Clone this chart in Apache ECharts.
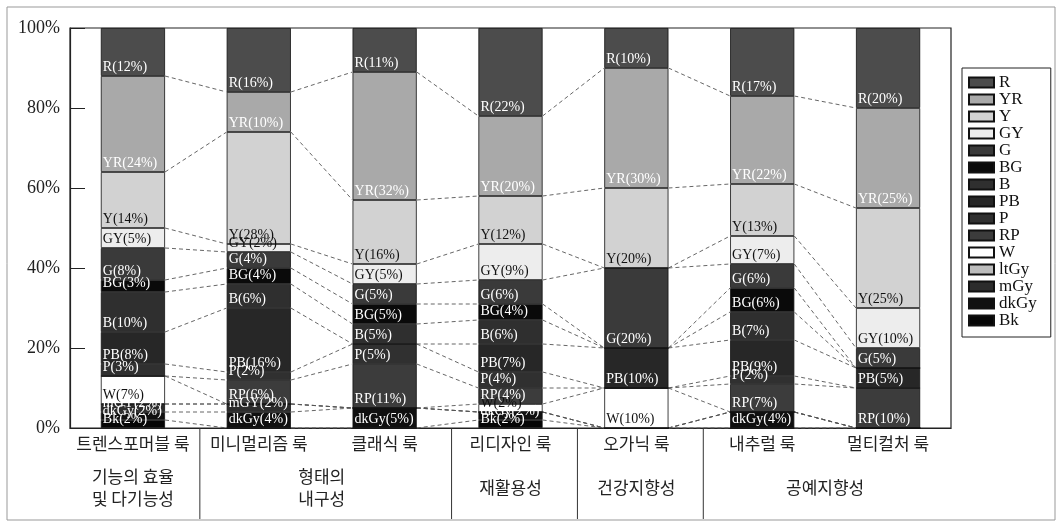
<!DOCTYPE html>
<html><head><meta charset="utf-8">
<script src="https://cdn.jsdelivr.net/npm/echarts@6/dist/echarts.min.js"></script>
<style>html,body{margin:0;padding:0;background:#fff}#c{width:1061px;height:526px}</style>
</head><body><div id="c"></div>
<script>
// ---- data ----
const categories = ['트렌스포머블 룩', '미니멀리즘 룩', '클래식 룩', '리디자인 룩', '오가닉 룩', '내추럴 룩', '멀티컬처 룩'];
const groups = ['기능의 효율\n및 다기능성', '형태의\n내구성', '재활용성', '건강지향성', '공예지향성'];
const groupSizes = [1, 2, 1, 1, 2];
// stacking order bottom -> top
const colorNames = ['Bk', 'dkGy', 'mGy', 'ltGy', 'W', 'RP', 'P', 'PB', 'B', 'BG', 'G', 'GY', 'Y', 'YR', 'R'];
const labelNames = ['Bk', 'dkGy', 'mGY', 'ltGy', 'W', 'RP', 'P', 'PB', 'B', 'BG', 'G', 'GY', 'Y', 'YR', 'R'];
const legendOrder = ['R', 'YR', 'Y', 'GY', 'G', 'BG', 'B', 'PB', 'P', 'RP', 'W', 'ltGy', 'mGy', 'dkGy', 'Bk'];
const Bk   = [2, 0, 0, 2, 0, 0, 0];
const dkGy = [2, 4, 5, 2, 0, 4, 0];
const mGy  = [2, 2, 0, 0, 0, 0, 0];
const ltGy = [0, 0, 0, 0, 0, 0, 0];
const W    = [7, 0, 0, 2, 10, 0, 0];
const RP   = [0, 6, 11, 4, 0, 7, 10];
const P    = [3, 2, 5, 4, 0, 2, 0];
const PB   = [8, 16, 0, 7, 10, 9, 5];
const B    = [10, 6, 5, 6, 0, 7, 0];
const BG   = [3, 4, 5, 4, 0, 6, 0];
const G    = [8, 4, 5, 6, 20, 6, 5];
const GY   = [5, 2, 5, 9, 0, 7, 10];
const Y    = [14, 28, 16, 12, 20, 13, 25];
const YR   = [24, 10, 32, 20, 30, 22, 25];
const R    = [12, 16, 11, 22, 10, 17, 20];
const yTicks = [0, 20, 40, 60, 80, 100];

// ---- styles ----
const values = [Bk, dkGy, mGy, ltGy, W, RP, P, PB, B, BG, G, GY, Y, YR, R];
const fills = {
  Bk: '#060606', dkGy: '#101010', mGy: '#2c2c2c', ltGy: '#bdbdbd', W: '#ffffff',
  RP: '#3c3c3c', P: '#303030', PB: '#272727', B: '#2f2f2f', BG: '#0a0a0a',
  G: '#3a3a3a', GY: '#ededed', Y: '#d2d2d2', YR: '#a9a9a9', R: '#4c4c4c'
};
const darkText = { W: 1, GY: 1, Y: 1, ltGy: 1 };
const BAR_RATIO = 0.51;
const serif = '"Liberation Serif", "DejaVu Serif", serif';
const kr = '"Noto Sans CJK KR", sans-serif';

function cumStart(c, i) { let s = 0; for (let k = 0; k < c; k++) s += values[k][i]; return s; }

const series = colorNames.map((n, c) => ({
  name: n, type: 'bar', stack: 'all', barWidth: (BAR_RATIO * 100) + '%',
  data: values[c],
  itemStyle: { color: fills[n], borderColor: '#111', borderWidth: 0.8 },
  label: {
    show: true, position: 'insideBottomLeft', distance: 2,
    fontFamily: serif, fontSize: 14, color: darkText[n] ? '#111' : '#fff',
    formatter: p => p.value > 0 ? labelNames[c] + '(' + p.value + '%)' : ''
  },
  labelLayout: { hideOverlap: false }
}));

// connectors
const linkData = [];
for (let i = 0; i < categories.length - 1; i++)
  for (let c = 1; c < colorNames.length; c++) linkData.push([i, c]);
series.push({
  type: 'custom', name: 'links', silent: true, data: linkData, z: 1,
  renderItem(params, api) {
    const i = api.value(0), c = api.value(1);
    const hw = api.size([1, 0])[0] * BAR_RATIO / 2;
    const p1 = api.coord([i, cumStart(c, i)]);
    const p2 = api.coord([i + 1, cumStart(c, i + 1)]);
    return { type: 'line', shape: { x1: p1[0] + hw, y1: p1[1], x2: p2[0] - hw, y2: p2[1] },
      style: { stroke: '#555', lineWidth: 0.9, lineDash: [4, 3] } };
  }
});

// group labels + separators below axis
const groupStart = []; { let s = 0; groupSizes.forEach(g => { groupStart.push(s); s += g; }); }
series.push({
  type: 'custom', name: 'groups', silent: true, clip: false,
  data: groups.map((g, k) => [groupStart[k], 0]),
  renderItem(params, api) {
    const k = params.dataIndex, s = groupStart[k], e = s + groupSizes[k] - 1;
    const a = api.coord([s, 0]), b = api.coord([e, 0]);
    const children = [{
      type: 'text', style: { text: groups[k], x: (a[0] + b[0]) / 2, y: 488, align: 'center', verticalAlign: 'middle',
        font: '17px ' + kr, fill: '#222', lineHeight: 22 }
    }];
    if (k > 0) {
      const prev = api.coord([s - 1, 0]);
      const x = (prev[0] + a[0]) / 2 + 4;
      children.push({ type: 'line', shape: { x1: x, y1: a[1], x2: x, y2: 519 }, style: { stroke: '#333', lineWidth: 1 } });
    }
    return { type: 'group', children };
  }
});

const chart = echarts.init(document.getElementById('c'));
chart.setOption({
  animation: false,
  backgroundColor: '#fff',
  graphic: [{ type: 'rect', shape: { x: 7, y: 7, width: 1048, height: 513 }, style: { fill: 'none', stroke: '#999', lineWidth: 1 }, z: -1 }],
  grid: { left: 70, right: 110, top: 28, bottom: 98, show: true, borderColor: '#222', borderWidth: 1.2, backgroundColor: 'transparent' },
  legend: {
    data: legendOrder, orient: 'vertical', left: 962, top: 68,
    itemWidth: 25, itemHeight: 10, itemGap: 0, icon: 'rect',
    padding: [6, 14, 8, 6], borderColor: '#222', borderWidth: 1,
    textStyle: { color: '#111', fontFamily: serif, fontSize: 17 }
  },
  xAxis: {
    type: 'category', data: categories,
    axisLine: { lineStyle: { color: '#222', width: 1.2 } }, axisTick: { show: false },
    axisLabel: { fontFamily: kr, fontSize: 17, color: '#222', margin: 7, interval: 0 }
  },
  yAxis: {
    type: 'value', min: yTicks[0], max: yTicks[yTicks.length - 1], interval: 20,
    axisLine: { show: true, lineStyle: { color: '#222', width: 1.2 } },
    axisTick: { show: true, inside: true, length: 15, lineStyle: { color: '#222' } },
    splitLine: { show: false },
    axisLabel: { formatter: '{value}%', fontFamily: serif, fontSize: 18, color: '#222', margin: 10 }
  },
  series
});
</script></body></html>
